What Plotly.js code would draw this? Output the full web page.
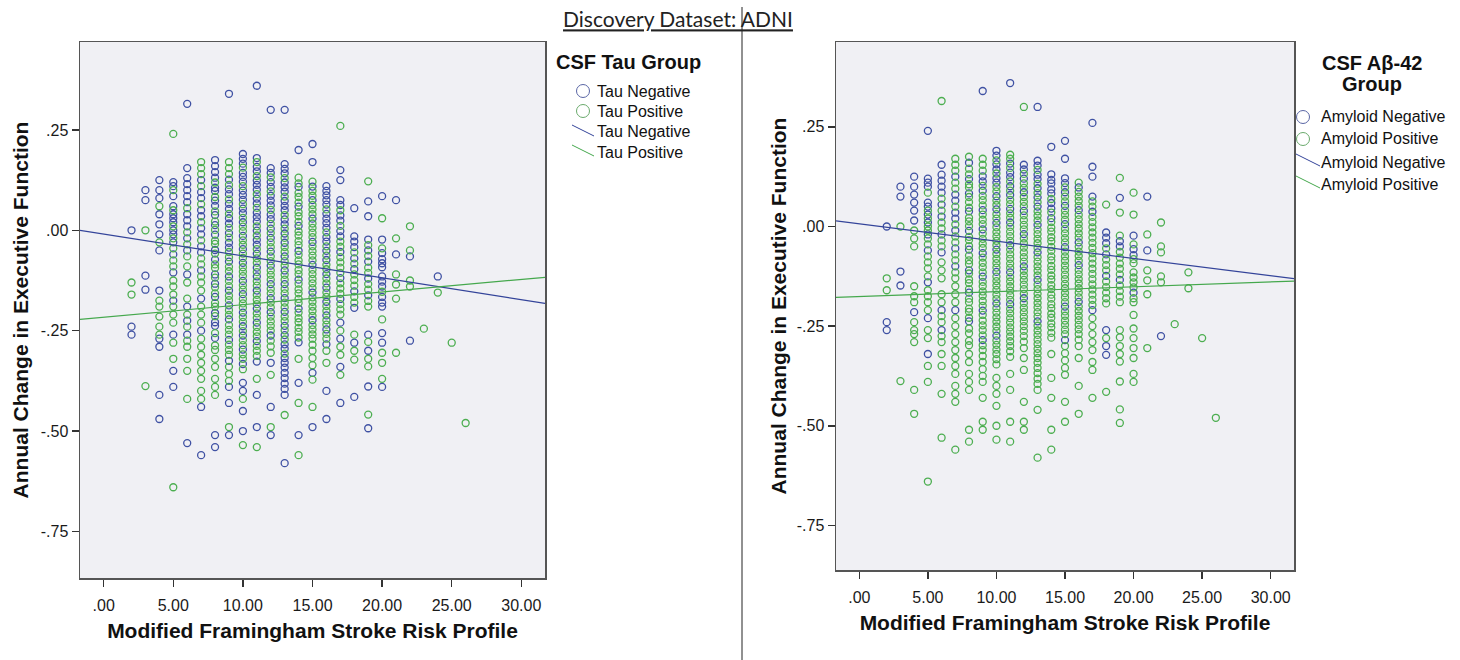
<!DOCTYPE html>
<html>
<head>
<meta charset="utf-8">
<script src="https://cdn.plot.ly/plotly-3.0.1.min.js"></script>
<style>
  html, body { margin: 0; padding: 0; background: #ffffff; }
  #chart { width: 1460px; height: 660px; }
</style>
</head>
<body>
<div id="chart"></div>
<script>
// Modified Framingham Stroke Risk Profile score (one entry per column of subjects)
const riskScores = [2, 3, 4, 5, 6, 7, 8, 9, 10, 11, 12, 13, 14, 15, 16, 17, 18, 19, 20, 21, 22, 23, 24, 25, 26];

// Annual change in executive function for the subjects at each risk score
const execChange = [
  [0.00, -0.13, -0.16, -0.24, -0.26],
  [0.10, 0.075, 0.00, -0.113, -0.148, -0.388],
  [0.125, 0.10, 0.08, 0.06, 0.04, 0.015, -0.01, -0.03, -0.05, -0.15, -0.175, -0.19, -0.215, -0.24, -0.26, -0.27, -0.29, -0.41, -0.47],
  [0.24, 0.12, 0.11, 0.10, 0.085, 0.06, 0.05, 0.04, 0.03, 0.02, 0.01, 0.0, -0.01, -0.02, -0.03, -0.045, -0.06, -0.075, -0.09, -0.105, -0.125, -0.14, -0.16, -0.175, -0.19, -0.21, -0.23, -0.26, -0.28, -0.32, -0.35, -0.39, -0.64],
  [0.315, 0.155, 0.13, 0.115, 0.10, 0.085, 0.07, 0.055, 0.04, 0.025, 0.01, -0.005, -0.02, -0.035, -0.05, -0.065, -0.09, -0.11, -0.13, -0.17, -0.19, -0.21, -0.225, -0.24, -0.26, -0.275, -0.29, -0.32, -0.35, -0.42, -0.53],
  [0.17, 0.155, 0.14, 0.125, 0.11, 0.095, 0.08, 0.065, 0.05, 0.035, 0.02, 0.005, -0.01, -0.025, -0.04, -0.055, -0.07, -0.085, -0.10, -0.115, -0.13, -0.15, -0.17, -0.19, -0.21, -0.23, -0.25, -0.27, -0.29, -0.31, -0.33, -0.35, -0.37, -0.40, -0.42, -0.44, -0.56],
  [0.175, 0.16, 0.145, 0.131, 0.119, 0.106, 0.098, 0.083, 0.074, 0.061, 0.047, 0.038, 0.022, 0.013, 0.001, -0.011, -0.026, -0.034, -0.049, -0.058, -0.073, -0.085, -0.094, -0.11, -0.118, -0.133, -0.142, -0.157, -0.166, -0.181, -0.19, -0.206, -0.214, -0.229, -0.238, -0.256, -0.268, -0.287, -0.298, -0.32, -0.34, -0.37, -0.39, -0.41, -0.51, -0.54],
  [0.34, 0.17, 0.155, 0.14, 0.126, 0.113, 0.102, 0.09, 0.077, 0.066, 0.053, 0.041, 0.03, 0.017, 0.006, -0.007, -0.018, -0.031, -0.043, -0.054, -0.067, -0.078, -0.091, -0.102, -0.115, -0.126, -0.139, -0.15, -0.163, -0.174, -0.187, -0.199, -0.211, -0.222, -0.236, -0.248, -0.26, -0.273, -0.285, -0.298, -0.31, -0.325, -0.34, -0.358, -0.375, -0.39, -0.43, -0.49, -0.51],
  [0.19, 0.178, 0.166, 0.156, 0.143, 0.133, 0.121, 0.11, 0.099, 0.088, 0.076, 0.065, 0.054, 0.043, 0.031, 0.02, 0.009, -0.002, -0.014, -0.025, -0.036, -0.047, -0.058, -0.069, -0.081, -0.092, -0.103, -0.114, -0.126, -0.137, -0.148, -0.159, -0.171, -0.182, -0.193, -0.205, -0.216, -0.228, -0.239, -0.251, -0.262, -0.274, -0.286, -0.297, -0.309, -0.32, -0.333, -0.346, -0.38, -0.40, -0.42, -0.45, -0.50, -0.535],
  [0.36, 0.18, 0.17, 0.158, 0.147, 0.135, 0.124, 0.113, 0.101, 0.09, 0.079, 0.067, 0.056, 0.044, 0.033, 0.022, 0.01, -0.001, -0.013, -0.024, -0.036, -0.047, -0.058, -0.07, -0.081, -0.093, -0.104, -0.115, -0.127, -0.138, -0.15, -0.161, -0.173, -0.184, -0.195, -0.207, -0.218, -0.23, -0.241, -0.253, -0.264, -0.276, -0.288, -0.3, -0.313, -0.327, -0.37, -0.41, -0.49, -0.54],
  [0.30, 0.155, 0.143, 0.132, 0.12, 0.108, 0.097, 0.086, 0.074, 0.062, 0.051, 0.039, 0.028, 0.016, 0.004, -0.007, -0.019, -0.03, -0.042, -0.053, -0.065, -0.077, -0.088, -0.1, -0.111, -0.123, -0.134, -0.146, -0.157, -0.169, -0.18, -0.192, -0.204, -0.215, -0.227, -0.238, -0.25, -0.262, -0.275, -0.289, -0.305, -0.33, -0.36, -0.44, -0.49, -0.51],
  [0.30, 0.165, 0.153, 0.142, 0.13, 0.119, 0.107, 0.096, 0.084, 0.073, 0.061, 0.05, 0.038, 0.027, 0.015, 0.004, -0.008, -0.019, -0.031, -0.042, -0.054, -0.065, -0.077, -0.088, -0.1, -0.111, -0.123, -0.134, -0.146, -0.157, -0.169, -0.18, -0.192, -0.203, -0.215, -0.226, -0.238, -0.249, -0.261, -0.272, -0.284, -0.295, -0.307, -0.318, -0.33, -0.342, -0.355, -0.368, -0.382, -0.395, -0.41, -0.46, -0.58],
  [0.20, 0.131, 0.117, 0.108, 0.093, 0.083, 0.069, 0.059, 0.045, 0.035, 0.021, 0.011, -0.003, -0.013, -0.027, -0.037, -0.051, -0.061, -0.075, -0.085, -0.099, -0.109, -0.123, -0.133, -0.147, -0.157, -0.171, -0.181, -0.195, -0.205, -0.219, -0.229, -0.243, -0.253, -0.267, -0.279, -0.32, -0.38, -0.43, -0.51, -0.56],
  [0.215, 0.17, 0.121, 0.109, 0.098, 0.086, 0.075, 0.063, 0.052, 0.04, 0.029, 0.017, 0.006, -0.006, -0.017, -0.029, -0.04, -0.052, -0.063, -0.075, -0.086, -0.098, -0.109, -0.121, -0.132, -0.144, -0.155, -0.167, -0.178, -0.19, -0.201, -0.213, -0.224, -0.236, -0.247, -0.259, -0.27, -0.285, -0.3, -0.318, -0.336, -0.355, -0.372, -0.44, -0.49],
  [0.11, 0.098, 0.087, 0.075, 0.064, 0.052, 0.041, 0.029, 0.018, 0.006, -0.005, -0.017, -0.028, -0.04, -0.051, -0.063, -0.074, -0.086, -0.097, -0.109, -0.12, -0.132, -0.143, -0.155, -0.166, -0.178, -0.189, -0.201, -0.212, -0.224, -0.235, -0.247, -0.258, -0.27, -0.284, -0.3, -0.33, -0.40, -0.47],
  [0.26, 0.15, 0.125, 0.075, 0.063, 0.05, 0.037, 0.024, 0.011, -0.002, -0.015, -0.028, -0.041, -0.054, -0.067, -0.08, -0.093, -0.106, -0.119, -0.132, -0.145, -0.158, -0.171, -0.184, -0.197, -0.21, -0.23, -0.25, -0.27, -0.29, -0.31, -0.34, -0.36, -0.43],
  [0.055, -0.015, -0.028, -0.042, -0.055, -0.07, -0.083, -0.097, -0.11, -0.124, -0.138, -0.152, -0.166, -0.18, -0.193, -0.26, -0.28, -0.3, -0.322, -0.415],
  [0.122, 0.072, 0.035, -0.023, -0.037, -0.05, -0.064, -0.078, -0.093, -0.106, -0.12, -0.134, -0.148, -0.162, -0.176, -0.19, -0.26, -0.278, -0.3, -0.32, -0.339, -0.389, -0.459, -0.493],
  [0.085, 0.03, -0.023, -0.045, -0.057, -0.072, -0.082, -0.092, -0.115, -0.128, -0.14, -0.153, -0.166, -0.18, -0.19, -0.222, -0.256, -0.28, -0.305, -0.33, -0.37, -0.39],
  [0.075, -0.02, -0.06, -0.11, -0.135, -0.17, -0.305],
  [0.01, -0.05, -0.065, -0.125, -0.14, -0.275],
  [-0.245],
  [-0.115, -0.155],
  [-0.28],
  [-0.48]
];

// CSF tau status per subject, same order as execChange (n = negative, p = positive)
const tauGroup = [
  "nppnn",
  "nnpnnp",
  "nnnpnnnpn npppppnnnn",
  "pnnpnnpnnn pnnpnpnppn pppnpppnpp nnp",
  "nnnnnnnpnn npnpnppnpp npnpnppppp n",
  "pppnpnnpnn pnnpnnppnp ppnpppnppp pppppnn",
  "nnnnpnnpnn pnpnpnppnp nppnpnppnp pnpnnpnppp ppppnn",
  "npppnpnnpn npnnpnpnnp pnppnppnpp nppnpppnpp pnpppnnpn",
  "nnnpnnnpnn npnnpnppnp pnppnpppnp pnpppnppnp nppnppnpnn pnnp",
  "nnpnnpnnnp nnpnnnpnpn npnppnpnpp npppnppnpp pnpppnpnnp",
  "nnnpnnpnnn pnnpnpnppn ppnpppnppn ppnppppnpp pnpnpn",
  "nnnnpnnnpn nnpnnpnpnp pnppnppnpp nppnppnpnp nnpnnnnnnn npn",
  "nppnpppnpp pnppppnppp ppnpppppnp pppppnpnpnp",
  "nnpnppnppp nppppnpppp npppppnppp ppnppppppp pnppn",
  "nnnnnpnnnn pnnpnpnppn ppnppnppnp pnppnppnn",
  "pnnnnpnnpn nppnppppnp ppnpppnpnp pnpn",
  "nnnnpnpnpp pnppnpnppn",
  "pnnnpnpnpp nppnppnpnp pnpn",
  "npnpnnnnnn npnnnpnnpp pn",
  "npnpppp",
  "ppnppn",
  "p",
  "np",
  "p",
  "p"
];

// CSF amyloid-beta 42 status per subject, same order as execChange
const amyloidGroup = [
  "nppnn",
  "nnpnnp",
  "nnnnnnppp pppnpppppp",
  "nnnnpnnpnp nppnppnppp pnppppnppn ppp",
  "pnnnnnpnpn ppnppnpppp pnppnppppp p",
  "pppnppnnpn npnppnppnp ppppnppppp ppppppp",
  "pnppnppnpp pnpppnpppn pppnppppnp ppppnppppp pppppp",
  "npppnnpnpp pnpppnpppp nppppnpppp ppnpppppnp ppppppppp",
  "nnpnnpnnpp nppnppnppp ppnppppnpp ppppnppppp pnpppppppp pppp",
  "nppnpnnpnp nppnppnppp pnpppppnpp ppppnppppp pppppppppp",
  "pnnpnppnpp pnppppnppp pppnpppppp nppppppppp pppppp",
  "nnnpnnpnpn pnpppnpppp pnpppppnpp ppppppnppp pppppppppp ppp",
  "nnnnnnpnnp nppppppppp pppppppppp ppppppppppp",
  "nnnnpnppnp ppnppppnpp pppppppppp nppppppnpp ppppp",
  "pnppppnppp pppnppppnp ppppppnppp ppppppppp",
  "nnnnppnppp pppppppppp pppppnpppp pppp",
  "pnnnpnpppn pppppnpnnp",
  "pnppnnpppp pnpppppppp pppp",
  "ppnpnnpppp ppnppppppp pp",
  "npnpppp",
  "pppppn",
  "p",
  "pp",
  "p",
  "p"
];

// Linear fit lines for each group, evaluated at the ends of the x range
const fitX = [-1.7, 31.7];
const tauNegativeFit = [0.0, -0.182];
const tauPositiveFit = [-0.222, -0.117];
const amyloidNegativeFit = [0.014, -0.131];
const amyloidPositiveFit = [-0.178, -0.137];

// Axis ticks
const xTickVals = [0, 5, 10, 15, 20, 25, 30];
const xTickText = [".00", "5.00", "10.00", "15.00", "20.00", "25.00", "30.00"];
const yTickVals = [0.25, 0, -0.25, -0.5, -0.75];
const yTickText = [".25", ".00", "-.25", "-.50", "-.75"];

// Text
const mainTitle = "Discovery Dataset: ADNI";
const xTitle = "Modified Framingham Stroke Risk Profile";
const yTitle = "Annual Change in Executive Function";
const tauLegendTitle = "CSF Tau Group";
const tauLabels = ["Tau Negative", "Tau Positive"];
const amyloidLegendTitle = ["CSF A\u03b2-42", "Group"];
const amyloidLabels = ["Amyloid Negative", "Amyloid Positive"];

// ---------------------------------------------------------------
const W = 1460, H = 660;
const px = v => v / W;          // pixel -> paper x
const py = v => 1 - v / H;      // pixel -> paper y

const BLUE = "#3f51a3", GREEN = "#4cae50";
const BLUE_LINE = "#34449a", GREEN_LINE = "#45a84d";
const FONT = "Liberation Sans, Arial, sans-serif";

// split the subjects into negative / positive groups for a status table
function splitBy(status) {
  const out = { n: { x: [], y: [] }, p: { x: [], y: [] } };
  riskScores.forEach((score, i) => {
    const flags = status[i].replace(/\s+/g, "");
    execChange[i].forEach((val, j) => {
      const g = flags[j] === "n" ? "n" : "p";
      out[g].x.push(score);
      out[g].y.push(val);
    });
  });
  return out;
}

const tauSplit = splitBy(tauGroup);
const amySplit = splitBy(amyloidGroup);

function points(group, color, xa, ya, name) {
  return {
    type: "scatter", mode: "markers", name: name,
    x: group.x, y: group.y, xaxis: xa, yaxis: ya,
    marker: { symbol: "circle-open", size: 7, color: color, line: { width: 1.3, color: color } },
    hoverinfo: "skip", showlegend: false
  };
}
function fitLine(vals, color, xa, ya, name) {
  return {
    type: "scatter", mode: "lines", name: name,
    x: fitX, y: vals, xaxis: xa, yaxis: ya,
    line: { color: color, width: 1.2 },
    hoverinfo: "skip", showlegend: false
  };
}

const traces = [
  points(tauSplit.n, BLUE, "x", "y", tauLabels[0]),
  points(tauSplit.p, GREEN, "x", "y", tauLabels[1]),
  fitLine(tauNegativeFit, BLUE_LINE, "x", "y", tauLabels[0]),
  fitLine(tauPositiveFit, GREEN_LINE, "x", "y", tauLabels[1]),
  points(amySplit.n, BLUE, "x2", "y2", amyloidLabels[0]),
  points(amySplit.p, GREEN, "x2", "y2", amyloidLabels[1]),
  fitLine(amyloidNegativeFit, BLUE_LINE, "x2", "y2", amyloidLabels[0]),
  fitLine(amyloidPositiveFit, GREEN_LINE, "x2", "y2", amyloidLabels[1])
];

function xAxis(domain, anchor) {
  return {
    domain: domain, anchor: anchor, range: [-1.7, 31.7],
    tickmode: "array", tickvals: xTickVals, ticktext: xTickText,
    ticks: "outside", ticklen: 7, tickwidth: 1.5, tickcolor: "#333",
    showline: true, linecolor: "#555", linewidth: 1.5, mirror: true,
    showgrid: false, zeroline: false, fixedrange: true,
    tickfont: { family: FONT, size: 16, color: "#1a1a1a" },
    ticklabelstandoff: 5,
    title: { text: xTitle, standoff: 10, font: { family: FONT, size: 21, weight: 700, color: "#111" } }
  };
}
function yAxis(domain, anchor, range, standoff) {
  return {
    domain: domain, anchor: anchor, range: range,
    tickmode: "array", tickvals: yTickVals, ticktext: yTickText,
    ticks: "outside", ticklen: 7, tickwidth: 1.5, tickcolor: "#333",
    showline: true, linecolor: "#555", linewidth: 1.5, mirror: true,
    showgrid: false, zeroline: false, fixedrange: true,
    tickfont: { family: FONT, size: 16, color: "#1a1a1a" },
    title: { text: yTitle, standoff: standoff, font: { family: FONT, size: 21, weight: 700, color: "#111" } }
  };
}

// hand-built legends: title, circle symbols, diagonal line symbols and labels
const annotations = [];
const shapes = [];

function legendText(text, x, y, opts) {
  annotations.push(Object.assign({
    text: text, xref: "paper", yref: "paper", x: px(x), y: py(y),
    xanchor: "left", yanchor: "middle", showarrow: false,
    font: { family: FONT, size: 16, color: "#111" }
  }, opts || {}));
}
function legendCircle(cx, cy, color) {
  shapes.push({ type: "circle", xref: "paper", yref: "paper",
    x0: px(cx - 6.5), x1: px(cx + 6.5), y0: py(cy + 6.5), y1: py(cy - 6.5),
    line: { color: color, width: 1 }, fillcolor: "rgba(0,0,0,0)" });
}
function legendLine(x0, y0, x1, y1, color) {
  shapes.push({ type: "line", xref: "paper", yref: "paper",
    x0: px(x0), y0: py(y0), x1: px(x1), y1: py(y1),
    line: { color: color, width: 1 } });
}

const TITLE_FONT = { family: FONT, size: 20, weight: 700, color: "#111" };

// left legend
legendText(tauLegendTitle, 554, 62, { font: TITLE_FONT });
const tauRows = [91, 111, 132, 152];
legendCircle(583, tauRows[0], "#5a66a5");
legendCircle(583, tauRows[1], "#6aaa6c");
legendLine(572, tauRows[2] - 7, 594, tauRows[2] + 4, BLUE_LINE);
legendLine(572, tauRows[3] - 7, 594, tauRows[3] + 4, GREEN_LINE);
legendText(tauLabels[0], 595, tauRows[0]);
legendText(tauLabels[1], 595, tauRows[1]);
legendText(tauLabels[0], 595, tauRows[2]);
legendText(tauLabels[1], 595, tauRows[3]);

// right legend
legendText(amyloidLegendTitle[0], 1372, 63, { xanchor: "center", font: TITLE_FONT });
legendText(amyloidLegendTitle[1], 1372, 84, { xanchor: "center", font: TITLE_FONT });
const amyRows = [117, 139, 162, 184];
legendCircle(1303, amyRows[0], "#5a66a5");
legendCircle(1303, amyRows[1], "#6aaa6c");
legendLine(1296, amyRows[2] - 8, 1320, amyRows[2] + 4, BLUE_LINE);
legendLine(1296, amyRows[3] - 8, 1320, amyRows[3] + 4, GREEN_LINE);
legendText(amyloidLabels[0], 1319, amyRows[0]);
legendText(amyloidLabels[1], 1319, amyRows[1]);
legendText(amyloidLabels[0], 1319, amyRows[2]);
legendText(amyloidLabels[1], 1319, amyRows[3]);

// divider between the two panels
shapes.push({ type: "line", xref: "paper", yref: "paper",
  x0: px(742), x1: px(742), y0: 0, y1: py(7), line: { color: "#222", width: 1 } });

const layout = {
  width: W, height: H,
  margin: { l: 0, r: 0, t: 0, b: 0 },
  paper_bgcolor: "#ffffff",
  plot_bgcolor: "#f0f0f4",
  showlegend: false,
  title: {
    text: "<u>" + mainTitle + "</u>",
    xref: "paper", yref: "paper", x: px(678), y: py(20),
    xanchor: "center", yanchor: "middle",
    font: { family: "Lato, Open Sans, sans-serif", size: 21, color: "#222" }
  },
  xaxis: xAxis([px(80), px(545)], "y"),
  yaxis: yAxis([1 - 578 / H, 1 - 42 / H], "x", [-0.866, 0.469], 6),
  xaxis2: xAxis([px(836), px(1294)], "y2"),
  yaxis2: yAxis([1 - 570 / H, 1 - 42 / H], "x2", [-0.862, 0.463], 4),
  annotations: annotations,
  shapes: shapes
};

Plotly.newPlot("chart", traces, layout, { displayModeBar: false, staticPlot: true });
</script>
</body>
</html>
